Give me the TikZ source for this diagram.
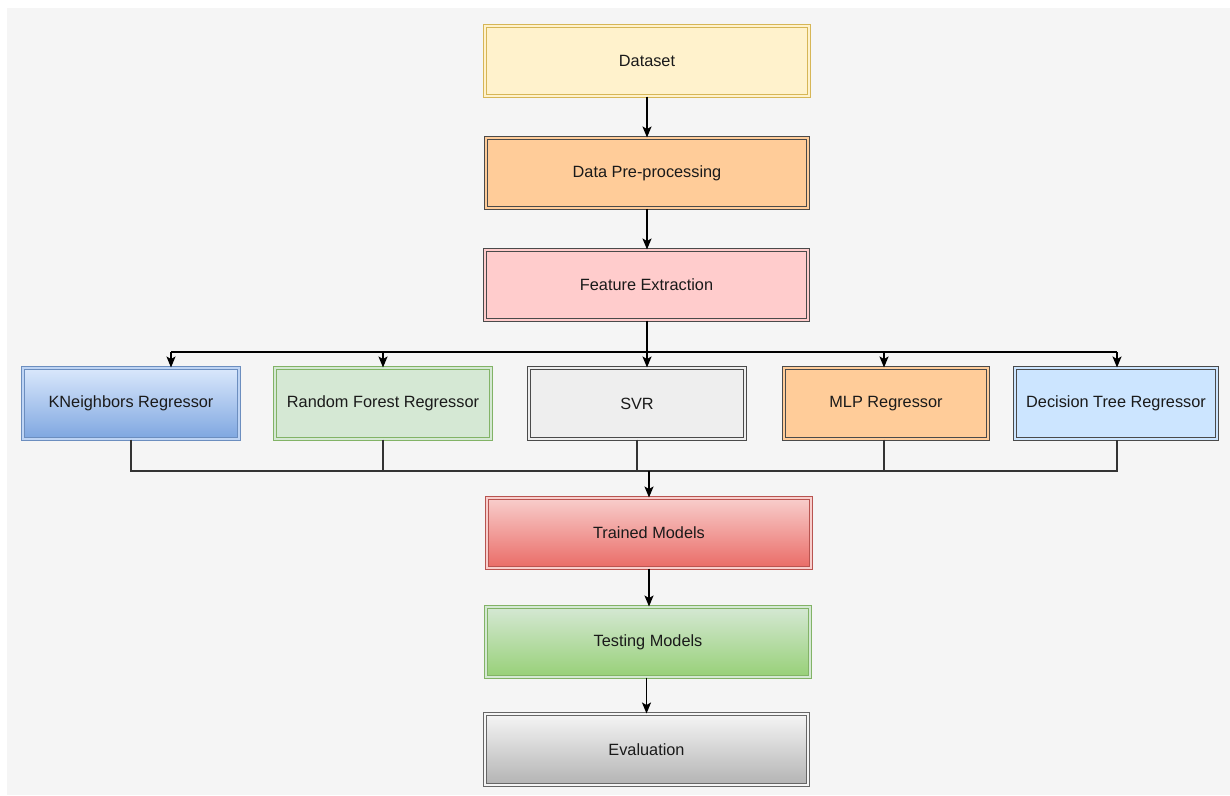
\documentclass[tikz,border=0pt]{standalone}
\usepackage{fontspec}
\setmainfont{Liberation Sans}
\usetikzlibrary{arrows.meta}
\definecolor{bg}{HTML}{F5F5F5}
\definecolor{txt}{HTML}{1A1A1A}
\definecolor{yfill}{HTML}{FFF2CC}\definecolor{ydraw}{HTML}{D6B656}
\definecolor{ofill}{HTML}{FFCC99}\definecolor{gdraw}{HTML}{4A4A4A}
\definecolor{pfill}{HTML}{FFCCCC}
\definecolor{btop}{HTML}{DAE8FC}\definecolor{bbot}{HTML}{7EA6E0}\definecolor{bdraw}{HTML}{6C8EBF}
\definecolor{grfill}{HTML}{D5E8D4}\definecolor{grdraw}{HTML}{82B366}
\definecolor{svfill}{HTML}{EEEEEE}
\definecolor{lbfill}{HTML}{CCE5FF}
\definecolor{rtop}{HTML}{F8CECC}\definecolor{rbot}{HTML}{EA6B66}\definecolor{rdraw}{HTML}{B85450}
\definecolor{gbot}{HTML}{97D077}
\definecolor{etop}{HTML}{F5F5F5}\definecolor{ebot}{HTML}{B3B3B3}\definecolor{edraw}{HTML}{666666}
\begin{document}
\begin{tikzpicture}[x=1pt,y=-1pt,
  box/.style={rectangle, line width=1pt, double distance=2pt, font=\fontsize{16.3}{19}\selectfont, text=txt, inner sep=0pt},
  bigbox/.style={box, minimum width=324pt, minimum height=70pt},
  smallbox/.style={box, minimum width=216pt, minimum height=71pt},
  arr/.style={line width=1.4pt, -{Stealth[length=11pt,width=9pt,inset=2.5pt]}},
  bus/.style={line width=1.4pt},
  bus2/.style={line width=1.1pt, draw=black!80}
]
\useasboundingbox (0,0) rectangle (1230,795);
\fill[white] (0,0) rectangle (1230,795);
\fill[bg] (7,8) rectangle (1230,795);

\node[bigbox, fill=yfill, draw=ydraw, double=yfill] (ds) at (647,61) {Dataset};
\node[bigbox, fill=ofill, draw=gdraw, double=ofill, minimum width=322pt] (pp) at (647,173) {Data Pre-processing};
\node[bigbox, fill=pfill, draw=gdraw, double=pfill, minimum width=323pt] (fe) at (646.5,285) {Feature Extraction};

\node[smallbox, top color=btop, bottom color=bbot, draw=bdraw, double=btop!70!bbot] (kn) at (131,403.5) {KNeighbors Regressor};
\node[smallbox, fill=grfill, draw=grdraw, double=grfill] (rf) at (383,403.5) {Random Forest Regressor};
\node[smallbox, fill=svfill, draw=gdraw, double=svfill] (svr) at (637,403.5) {SVR};
\node[smallbox, fill=ofill, draw=gdraw, double=ofill, minimum width=204pt] (mlp) at (886,403.5) {MLP Regressor};
\node[smallbox, fill=lbfill, draw=gdraw, double=lbfill, minimum width=202pt] (dt) at (1116,403.5) {Decision Tree Regressor};

\node[bigbox, top color=rtop, bottom color=rbot, draw=rdraw, double=rtop] (tm) at (649,533) {Trained Models};
\node[bigbox, top color=grfill, bottom color=gbot, draw=grdraw, double=grfill] (te) at (648,642) {Testing Models};
\node[bigbox, top color=etop, bottom color=ebot, draw=edraw, double=etop, minimum width=323pt, minimum height=71pt] (ev) at (646.5,749.5) {Evaluation};

\draw[arr] (ds.south) -- (ds.south |- pp.north);
\draw[arr] (pp.south) -- (pp.south |- fe.north);

\coordinate (ta) at (171,352);
\coordinate (tb) at (383,352);
\coordinate (tc) at (647,352);
\coordinate (td) at (884,352);
\coordinate (te2) at (1117,352);
\draw[line width=2.4pt] (fe.south -| tc) -- (tc);
\draw[bus] (ta) -- (te2);
\draw[arr] (ta) -- (kn.north -| ta);
\draw[arr] (tb) -- (rf.north -| tb);
\draw[arr] (tc) -- (svr.north -| tc);
\draw[arr] (td) -- (mlp.north -| td);
\draw[arr] (te2) -- (dt.north -| te2);

\coordinate (ba) at (131,471);
\coordinate (bb) at (383,471);
\coordinate (bc) at (637,471);
\coordinate (bd) at (884,471);
\coordinate (be) at (1117,471);
\coordinate (bm) at (649,471);
\draw[bus2] (kn.south -| ba) -- (ba) -- (be) -- (dt.south -| be);
\draw[bus2] (rf.south -| bb) -- (bb);
\draw[bus2] (svr.south -| bc) -- (bc);
\draw[bus2] (mlp.south -| bd) -- (bd);
\draw[arr] (bm) -- (tm.north);

\draw[arr] (tm.south) -- (tm.south |- te.north);
\draw[arr] (te.south -| ev.north) -- (ev.north);
\end{tikzpicture}
\end{document}
